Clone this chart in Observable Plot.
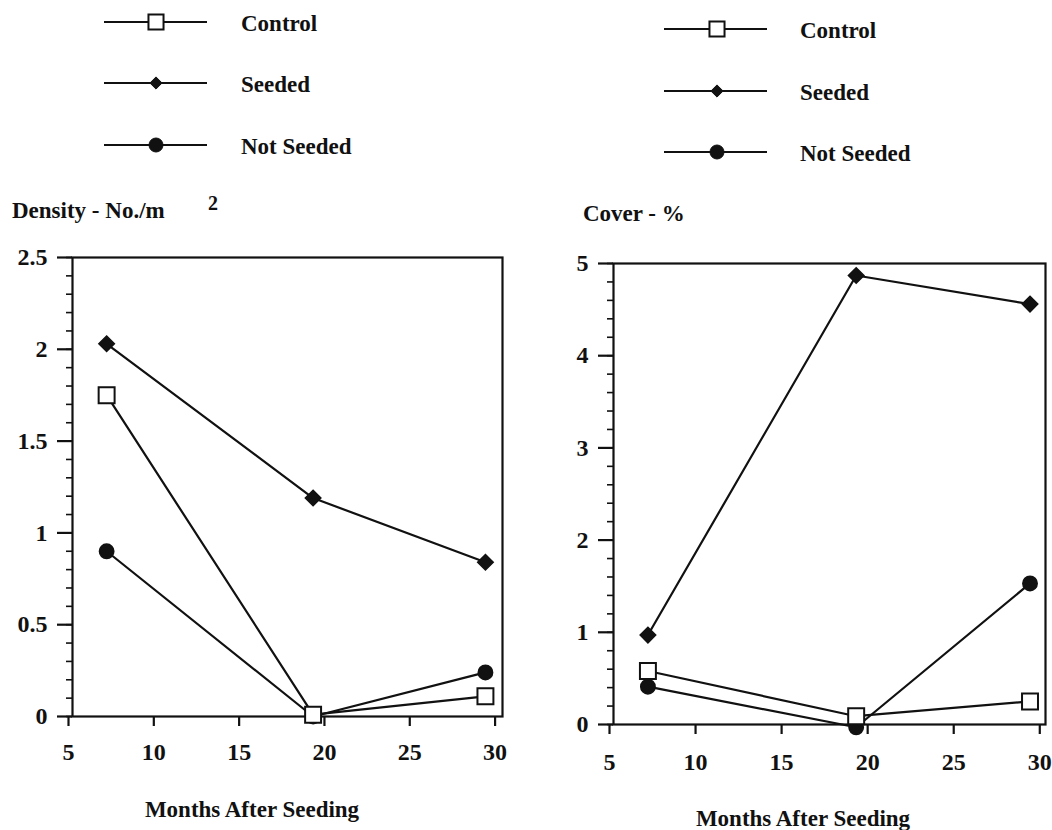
<!DOCTYPE html>
<html>
<head>
<meta charset="utf-8">
<script src="https://cdn.jsdelivr.net/npm/d3@7"></script>
<script src="https://cdn.jsdelivr.net/npm/@observablehq/plot@0.6"></script>
<style>
  html, body { margin: 0; padding: 0; background: #fff; }
  #wrap { position: relative; width: 1052px; height: 830px; overflow: hidden; background: #fff; }
</style>
</head>
<body>
<div id="wrap"></div>
<script>
// ---- data ----
const series = ["Control", "Seeded", "Not Seeded"];
const months = [7, 19.1, 29.2];
const xTicks = [5, 10, 15, 20, 25, 30];

// Density - No./m2
const densityControl = [1.75, 0.01, 0.11];
const densitySeeded = [2.03, 1.19, 0.84];
const densityNotSeeded = [0.90, 0.0, 0.24];
const densityTicks = [0, 0.5, 1, 1.5, 2, 2.5];
const densityMinorTicks = d3.range(0, 26).map(i => i / 10);

// Cover - %
const coverControl = [0.58, 0.09, 0.25];
const coverSeeded = [0.97, 4.87, 4.56];
const coverNotSeeded = [0.41, -0.03, 1.53];
const coverTicks = [0, 1, 2, 3, 4, 5];
const coverMinorTicks = d3.range(0, 26).map(i => i / 5);

const xTitle = "Months After Seeding";

// ---- drawing ----
const W = 1052, H = 830;
const FONT = '"Liberation Serif", "Times New Roman", serif';
const INK = "#111";
const wrap = document.getElementById("wrap");

function rows(vals) {
  return series.flatMap((s, i) => months.map((m, j) => ({series: s, month: m, value: vals[i][j]})));
}

function makePanel(o) {
  const data = rows(o.values);
  const only = s => data.filter(d => d.series === s);
  const p = Plot.plot({
    width: o.width, height: H,
    marginLeft: o.ml, marginRight: o.mr, marginTop: o.mt, marginBottom: o.mb,
    style: {fontFamily: FONT, fontSize: "24px", fontWeight: "bold", color: INK, background: "transparent", overflow: "visible"},
    x: {domain: [5, o.xMax]},
    y: {domain: [0, o.yMax]},
    marks: [
      Plot.axisY({ticks: o.minor, tickSize: 6, tickFormat: () => "", label: null, strokeWidth: 1.6}),
      Plot.axisY({ticks: o.major, tickSize: 15, tickPadding: 10, label: null, strokeWidth: 2.2, tickFormat: d => String(d)}),
      Plot.axisX({ticks: xTicks, tickSize: 10, tickPadding: o.xPad, dx: -4, label: null, strokeWidth: 2.2}),
      Plot.frame({stroke: INK, strokeWidth: 2.2}),
      Plot.line(data, {x: "month", y: "value", z: "series", stroke: INK, strokeWidth: 2.2}),
      Plot.dot(only("Not Seeded"), {x: "month", y: "value", symbol: "circle", r: 7.2, fill: INK, stroke: INK}),
      Plot.dot(only("Seeded"), {x: "month", y: "value", symbol: "diamond2", r: 7, fill: INK, stroke: INK}),
      Plot.dot(only("Control"), {x: "month", y: "value", symbol: "square", r: 9, fill: "white", stroke: INK, strokeWidth: 2})
    ]
  });
  p.style.position = "absolute";
  p.style.left = o.left + "px";
  p.style.top = "0px";
  wrap.appendChild(p);
}

makePanel({left: 0, width: 526, ml: 72, mr: 24, mt: 257, mb: 114, yMax: 2.5, xMax: 30.2, xPad: 16,
  values: [densityControl, densitySeeded, densityNotSeeded], major: densityTicks, minor: densityMinorTicks});
makePanel({left: 526, width: 526, ml: 87, mr: 7, mt: 263, mb: 106, yMax: 5, xMax: 30.1, xPad: 18,
  values: [coverControl, coverSeeded, coverNotSeeded], major: coverTicks, minor: coverMinorTicks});

// ---- titles and legends (overlay) ----
const svg = d3.select(wrap).append("svg")
  .attr("width", W).attr("height", H)
  .style("position", "absolute").style("left", "0px").style("top", "0px")
  .style("pointer-events", "none")
  .attr("font-family", FONT).attr("font-weight", "bold").attr("font-size", 23).attr("fill", INK);

svg.append("text").attr("x", 12).attr("y", 218).text("Density - No./m");
svg.append("text").attr("x", 208).attr("y", 210).attr("font-size", 20).text("2");
svg.append("text").attr("x", 583).attr("y", 221).text("Cover - %");
svg.append("text").attr("x", 252).attr("y", 817).attr("text-anchor", "middle").text(xTitle);
svg.append("text").attr("x", 803).attr("y", 826).attr("text-anchor", "middle").text(xTitle);

const symbolSpec = {
  "Control": {type: d3.symbolSquare, r: 8.5, fill: "white", sw: 2},
  "Seeded": {type: d3.symbolDiamond2, r: 5.5, fill: INK, sw: 1},
  "Not Seeded": {type: d3.symbolCircle, r: 7, fill: INK, sw: 1}
};
function legend(x0, x1, xm, xt, lineYs) {
  series.forEach((s, i) => {
    const y = lineYs[i];
    const g = svg.append("g");
    g.append("line").attr("x1", x0).attr("x2", x1).attr("y1", y).attr("y2", y).attr("stroke", INK).attr("stroke-width", 2.2);
    const sp = symbolSpec[s];
    g.append("path").attr("transform", `translate(${xm},${y})`)
      .attr("d", d3.symbol(sp.type, Math.PI * sp.r * sp.r)())
      .attr("fill", sp.fill).attr("stroke", INK).attr("stroke-width", sp.sw);
    g.append("text").attr("x", xt).attr("y", y + 9).text(s);
  });
}
legend(104, 207, 156, 241, [22, 83, 145]);
legend(664, 767, 717, 800, [29, 91, 152]);
</script>
</body>
</html>
